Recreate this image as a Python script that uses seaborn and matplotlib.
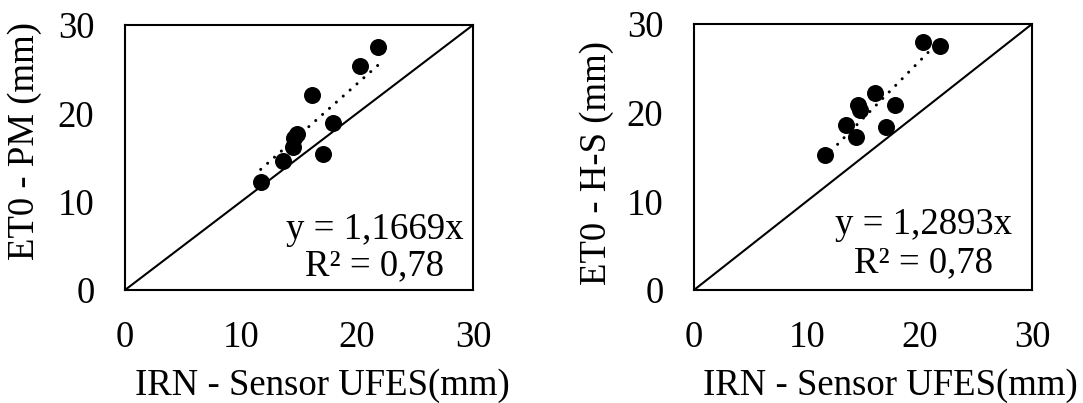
import matplotlib
matplotlib.use("Agg")
import matplotlib.pyplot as plt
import seaborn as sns
import numpy as np
import pandas as pd

# Data
irn = [11.7, 13.6, 14.5, 14.6, 14.8, 16.1, 17.1, 17.9, 20.3, 21.8]
et0_pm = [12.2, 14.6, 16.2, 17.2, 17.7, 22.1, 15.4, 18.9, 25.4, 27.5]
irn_hs = [11.6, 13.5, 14.4, 14.6, 14.7, 16.1, 17.0, 17.8, 20.3, 21.8]
et0_hs = [15.2, 18.6, 17.3, 20.9, 20.3, 22.2, 18.4, 20.9, 28.0, 27.5]
slope_pm = 1.1669
slope_hs = 1.2893
r2_pm = "0,78"
r2_hs = "0,78"
ticks = [0, 10, 20, 30]
xlabel = "IRN - Sensor UFES(mm)"
ylabel_pm = "ET0 - PM (mm)"
ylabel_hs = "ET0 - H-S (mm)"

sns.set_style("white", {"text.color": "black", "axes.labelcolor": "black",
                        "xtick.color": "black", "ytick.color": "black",
                        "axes.edgecolor": "black"})
plt.rcParams['font.family'] = ['Liberation Serif', 'DejaVu Serif']

W, H = 1083, 403
fig = plt.figure(figsize=(W / 100, H / 100), dpi=100)

def px_axes(l, r, t, b):
    return fig.add_axes([l / W, 1 - b / H, (r - l) / W, (b - t) / H])

ax1 = px_axes(125, 473, 25, 290)
ax2 = px_axes(694, 1032, 24, 290)

FS = 26.5

panels = [
    (ax1, irn, et0_pm, slope_pm, r2_pm, ylabel_pm, (0.718, 0.226, 0.09), 0.562, 0.566, -0.287),
    (ax2, irn_hs, et0_hs, slope_hs, r2_hs, ylabel_hs, (0.68, 0.244, 0.103), 0.477, 0.58, -0.288),
]

for ax, x, y, k, r2, ylab, (tx, ty1, ty2), ylab_y, xlab_x, ylab_x in panels:
    df = pd.DataFrame({"x": x, "y": y})
    # 1:1 line
    ax.plot([0, 30], [0, 30], color="black", lw=1.5, zorder=1)
    # trend line through origin
    xs = np.array([min(x), max(x)])
    ax.plot(xs, k * xs, color="black", lw=2.2, linestyle=(0, (0.01, 3.0)),
            dash_capstyle="round", zorder=2)
    sns.scatterplot(data=df, x="x", y="y", ax=ax, color="black", s=150,
                    edgecolor="black", linewidth=0, zorder=3)
    ax.set_xlim(0, 30)
    ax.set_ylim(0, 30)
    ax.set_xticks(ticks)
    ax.set_yticks(ticks)
    ax.tick_params(axis="both", length=0, labelsize=FS, pad=22, labelcolor="black")
    for sp in ax.spines.values():
        sp.set_visible(True)
        sp.set_color("black")
        sp.set_linewidth(1.5)
    ax.set_xlabel(xlabel, fontsize=FS, va="center", color="black")
    ax.set_ylabel(ylab, fontsize=FS, va="center", color="black")
    ax.xaxis.set_label_coords(xlab_x, -0.36)
    ax.yaxis.set_label_coords(ylab_x, ylab_y)
    ax.text(tx, ty1, f"y = {k:.4f}x".replace(".", ","), transform=ax.transAxes,
            ha="center", va="center", fontsize=FS, color="black")
    ax.text(tx, ty2, f"R² = {r2}", transform=ax.transAxes,
            ha="center", va="center", fontsize=FS, color="black")

fig.savefig("out.png", dpi=100, facecolor="white")
